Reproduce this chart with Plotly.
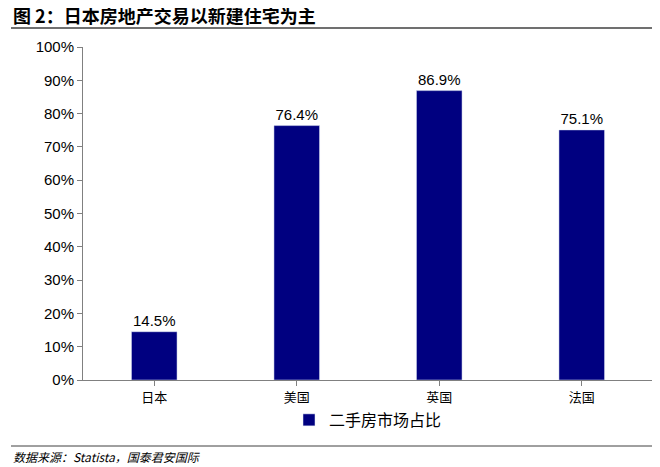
import plotly.graph_objects as go

categories = ["日本", "美国", "英国", "法国"]
values = [14.5, 76.4, 86.9, 75.1]
labels = [f"{v:.1f}%" for v in values]
series_name = "二手房市场占比"

T, B = 39, 95
OFF = 8
fig = go.Figure(go.Bar(x=categories, y=values, name=series_name, marker_color="#000080",
                       width=0.32, text=labels, textposition="outside",
                       textfont=dict(size=15, color="#000"), cliponaxis=False, showlegend=True))
fig.update_layout(
    width=660, height=467, plot_bgcolor="white", paper_bgcolor="white",
    margin=dict(l=75, r=15, t=T, b=B),
    font=dict(family="Liberation Sans, Noto Sans CJK SC", size=15, color="#000"),
    xaxis=dict(showline=True, linecolor="#808080", ticks="outside", ticklen=5, tickcolor="#808080",
               tickfont=dict(size=13, family="Noto Sans CJK SC"), showgrid=False),
    yaxis=dict(range=[0, 100], dtick=10, ticksuffix="%", showline=True, linecolor="#808080",
               ticks="outside", ticklen=5, tickcolor="#808080", showgrid=False, tickfont=dict(size=15)),
    legend=dict(orientation="h", x=0.5, xanchor="center", y=-0.12, yanchor="middle",
                font=dict(size=16, family="Noto Sans CJK SC")),
    bargap=0.68,
)
plot_h = 467 - T - B
def py(pix):
    return (467 - B - (pix - OFF)) / plot_h
def px(pix):
    return (pix - 75) / (660 - 75 - 15)
fig.add_annotation(text="<b>图 2：日本房地产交易以新建住宅为主</b>", xref="paper", yref="paper",
                   x=px(3), y=py(15), xanchor="left", yanchor="middle", showarrow=False,
                   font=dict(size=18, family="Noto Sans CJK SC"))
fig.add_annotation(text="<i>数据来源：Statista，国泰君安国际</i>", xref="paper", yref="paper",
                   x=px(3), y=py(456), xanchor="left", yanchor="middle", showarrow=False,
                   font=dict(size=12, family="Noto Sans CJK SC"))
fig.add_shape(type="line", xref="paper", yref="paper", x0=px(3), x1=px(657), y0=py(28), y1=py(28),
              line=dict(color="#404040", width=1.5))
fig.add_shape(type="line", xref="paper", yref="paper", x0=px(3), x1=px(657), y0=py(446), y1=py(446),
              line=dict(color="#404040", width=1))
fig.write_html("out.html")
